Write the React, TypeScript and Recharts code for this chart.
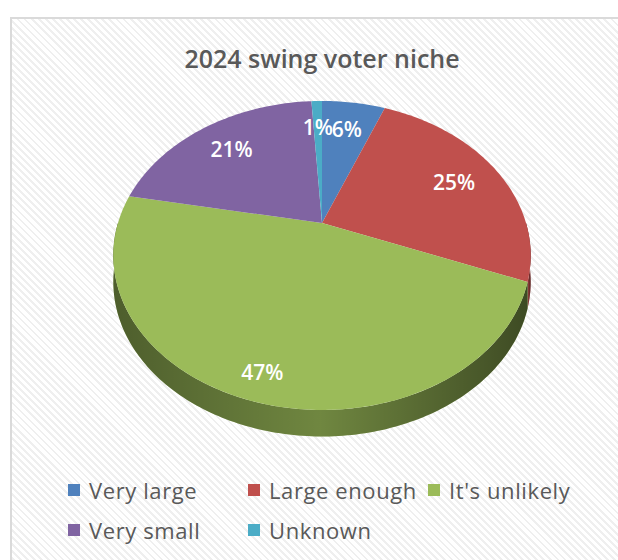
import { PieChart, Pie, Cell, Legend } from "recharts";

const names = ["Very large", "Large enough", "It's unlikely", "Very small", "Unknown"];
const shares = [6, 25, 47, 21, 1];
const colors = ["#4f81bd", "#c0504d", "#9bbb59", "#8064a2", "#4bacc6"];

const data = names.map((name, i) => ({ name, value: shares[i] }));

// perspective tilt of the pie disc
const TILT = 0.724;
const PERSP = 0.21;
const DEPTH = 0.13;

const project = (cx: number, cy: number, r: number, deg: number, f = 1) => {
  const t = (deg * Math.PI) / 180;
  const u = Math.cos(t) * f;
  const v = Math.sin(t) * f;
  const d = 1 + PERSP * v;
  return [cx + (r * u) / d, cy - (r * TILT * v) / d];
};

const arcPoints = (cx: number, cy: number, r: number, a: number, b: number) => {
  const pts: number[][] = [];
  const n = Math.max(2, Math.ceil(Math.abs(b - a)));
  for (let i = 0; i <= n; i++) pts.push(project(cx, cy, r, a + ((b - a) * i) / n));
  return pts;
};

const TopFace = (props: any) => {
  const { cx, cy, outerRadius, startAngle, endAngle, fill } = props;
  const pts = arcPoints(cx, cy, outerRadius, startAngle, endAngle);
  const d = `M${cx},${cy} ` + pts.map((p) => `L${p[0]},${p[1]}`).join(" ") + " Z";
  return <path d={d} fill={fill} />;
};

const SideFace = (props: any) => {
  const { cx, cy, outerRadius, startAngle, endAngle, fill } = props;
  const lo = Math.max(Math.min(startAngle, endAngle), -180);
  const hi = Math.min(Math.max(startAngle, endAngle), 0);
  if (hi <= lo) return <g />;
  const dep = outerRadius * DEPTH;
  const top = arcPoints(cx, cy, outerRadius, lo, hi);
  const bottom = top.map((p) => [p[0], p[1] + dep]).reverse();
  const d = "M" + top.concat(bottom).map((p) => `${p[0]},${p[1]}`).join(" L") + " Z";
  return (
    <g>
      <path d={d} fill={fill} />
      <path d={d} fill="url(#sideShade)" />
    </g>
  );
};

const renderLabel = (props: any) => {
  const { cx, cy, midAngle, outerRadius, percent } = props;
  const v = Math.sin((midAngle * Math.PI) / 180);
  const f = 0.75 + 0.12 * Math.max(0, -v);
  const [x, y] = project(cx, cy, outerRadius, midAngle, f);
  return (
    <text
      x={x}
      y={y}
      fill="#fff"
      fontSize={21}
      fontWeight={600}
      fontFamily="'Open Sans', sans-serif"
      textAnchor="middle"
      dominantBaseline="central"
    >
      {`${Math.round(percent * 100)}%`}
    </text>
  );
};

const LegendBox = () => (
  <div
    style={{
      display: "grid",
      gridTemplateColumns: "180px 180px 180px",
      gridAutoRows: "40px",
      fontFamily: "'Open Sans', sans-serif",
      fontSize: 22,
      letterSpacing: 0.6,
      color: "#595959",
    }}
  >
    {names.map((n, i) => (
      <div key={n} style={{ display: "flex", alignItems: "center", whiteSpace: "nowrap" }}>
        <span
          style={{
            display: "inline-block",
            width: 12,
            height: 12,
            background: colors[i],
            marginRight: 9,
            flexShrink: 0,
          }}
        />
        {n}
      </div>
    ))}
  </div>
);

export default function App() {
  return (
    <div
      style={{
        position: "fixed",
        left: 0,
        top: 0,
        width: 618,
        height: 560,
        background: "#fff",
        overflow: "hidden",
      }}
    >
      <div
        style={{
          position: "absolute",
          left: 10,
          top: 17,
          width: 640,
          height: 580,
          border: "2px solid #dadada",
          background:
            "repeating-linear-gradient(45deg, #ffffff 0px, #ffffff 3px, #efefef 3px, #efefef 5px)",
        }}
      />
      <div
        style={{
          position: "absolute",
          left: 122,
          width: 400,
          top: 41,
          textAlign: "center",
          fontFamily: "'Open Sans', sans-serif",
          fontSize: 25,
          fontWeight: 600,
          color: "#595959",
        }}
      >
        2024 swing voter niche
      </div>
      <div style={{ position: "absolute", left: 0, top: 0 }}>
        <PieChart width={618} height={560} margin={{ top: 0, right: 0, bottom: 0, left: 0 }}>
          <defs>
            <linearGradient id="sideShade" x1="0" y1="0" x2="1" y2="0">
              <stop offset="0%" stopColor="#000" stopOpacity={0.5} />
              <stop offset="50%" stopColor="#000" stopOpacity={0.28} />
              <stop offset="100%" stopColor="#000" stopOpacity={0.6} />
            </linearGradient>
          </defs>
          <Pie
            data={data}
            dataKey="value"
            nameKey="name"
            cx={322}
            cy={223}
            outerRadius={204}
            startAngle={90}
            endAngle={-270}
            stroke="none"
            legendType="none"
            shape={SideFace}
            inactiveShape={SideFace}
            activeShape={SideFace}
            isAnimationActive={false}
          >
            {data.map((d, i) => (
              <Cell key={d.name} fill={colors[i]} />
            ))}
          </Pie>
          <Pie
            data={data}
            dataKey="value"
            nameKey="name"
            cx={322}
            cy={223}
            outerRadius={204}
            startAngle={90}
            endAngle={-270}
            stroke="none"
            shape={TopFace}
            inactiveShape={TopFace}
            activeShape={TopFace}
            label={renderLabel}
            labelLine={false}
            isAnimationActive={false}
          >
            {data.map((d, i) => (
              <Cell key={d.name} fill={colors[i]} />
            ))}
          </Pie>
          <Legend
            content={() => <LegendBox />}
            wrapperStyle={{ position: "absolute", left: 68, top: 470, width: 550 }}
          />
        </PieChart>
      </div>
    </div>
  );
}
